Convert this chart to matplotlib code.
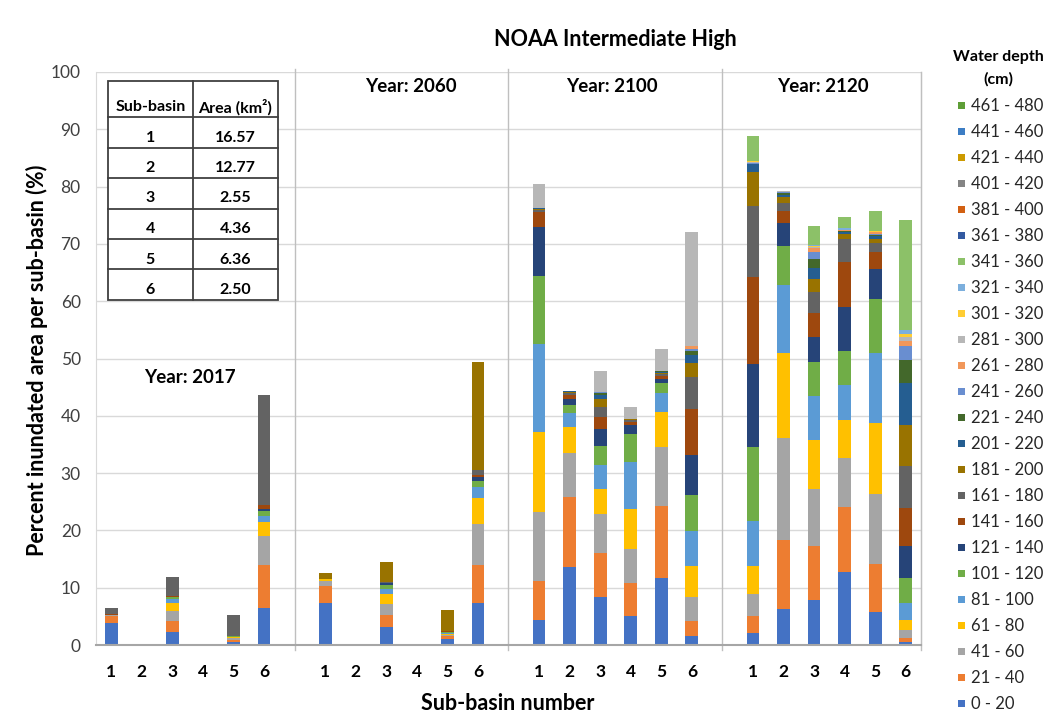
import numpy as np
import matplotlib
matplotlib.use("Agg")
import matplotlib.pyplot as plt
from matplotlib.patches import Rectangle
from matplotlib.lines import Line2D

plt.rcParams['font.family'] = ['Lato', 'DejaVu Sans']

# ---------------------------------------------------------------- data
depth_bins = ["0 - 20", "21 - 40", "41 - 60", "61 - 80", "81 - 100", "101 - 120",
              "121 - 140", "141 - 160", "161 - 180", "181 - 200", "201 - 220",
              "221 - 240", "241 - 260", "261 - 280", "281 - 300", "301 - 320",
              "321 - 340", "341 - 360", "361 - 380", "381 - 400", "401 - 420",
              "421 - 440", "441 - 460", "461 - 480"]

bin_colors = ['#4472C4', '#ED7D31', '#A5A5A5', '#FFC000', '#5B9BD5', '#70AD47',
              '#264478', '#9E480E', '#636363', '#997300', '#255E91', '#43682B',
              '#698ED0', '#F1975A', '#B7B7B7', '#FFCD33', '#7CAFDD', '#8CC168',
              '#335AA1', '#D26012', '#848484', '#CC9A00', '#3C7DC4', '#5E9E37']

years = ["2017", "2060", "2100", "2120"]
sub_basins = ["1", "2", "3", "4", "5", "6"]

# percent of sub-basin area per depth bin (bins above the listed ones are 0)
y2017 = [
    [3.9, 1.2, 0.1, 0.1, 0, 0, 0, 0.1, 1.1],
    [],
    [2.2, 2.0, 1.7, 1.5, 0.7, 0.2, 0.1, 0.1, 3.3],
    [],
    [0.5, 0.4, 0.25, 0.2, 0.1, 0.05, 0.05, 0.05, 3.7],
    [6.4, 7.6, 5.1, 2.4, 1.1, 0.7, 0.4, 0.7, 19.3],
]
y2060 = [
    [7.3, 3.05, 0.9, 0.2, 0, 0, 0, 0, 0, 1.2],
    [0, 0, 0, 0, 0, 0, 0, 0, 0, 0.2],
    [3.2, 2.0, 2.0, 1.7, 0.9, 0.7, 0.3, 0.1, 0.1, 3.4],
    [0, 0, 0, 0, 0, 0, 0, 0, 0, 0.2],
    [1.0, 0.5, 0.3, 0.1, 0.2, 0.2, 0.05, 0.05, 0.05, 3.7],
    [7.4, 6.6, 7.2, 4.4, 2.0, 1.0, 0.7, 0.4, 0.8, 18.9],
]
y2100 = [
    [4.3, 6.9, 12.0, 14.0, 15.4, 11.8, 8.5, 2.6, 0.4, 0.2, 0.1, 0, 0, 0, 4.3],
    [13.6, 12.3, 7.6, 4.5, 2.5, 1.3, 1.2, 0.6, 0.3, 0.3, 0.1, 0, 0, 0, 0.1],
    [8.3, 7.8, 6.7, 4.4, 4.2, 3.4, 2.9, 2.1, 1.7, 1.4, 0.7, 0.4, 0.1, 0.1, 3.6],
    [5.1, 5.8, 5.8, 7.1, 8.2, 4.8, 1.6, 0.6, 0.3, 0.1, 0, 0, 0, 0, 2.1],
    [11.7, 12.6, 10.2, 6.2, 3.2, 1.8, 0.8, 0.5, 0.3, 0.2, 0.2, 0.1, 0, 0, 3.8],
    [1.6, 2.65, 4.05, 5.4, 6.2, 6.3, 6.9, 8.1, 5.6, 2.5, 1.3, 0.7, 0.4, 0.4, 19.9],
]
y2120 = [
    [2.1, 2.9, 3.9, 4.8, 7.9, 12.9, 14.5, 15.2, 12.4, 6.0, 1.3, 0.1, 0.1, 0.1, 0.1, 0.1, 0, 4.5],
    [6.3, 12.0, 17.8, 14.9, 11.9, 6.7, 4.0, 2.1, 1.5, 0.9, 0.5, 0.3, 0.1, 0.1, 0.2],
    [7.9, 9.4, 9.9, 8.5, 7.7, 6.0, 4.3, 4.2, 3.7, 2.3, 1.9, 1.5, 1.2, 0.7, 0.3, 0.2, 0.1, 3.3],
    [12.7, 11.3, 8.6, 6.7, 6.1, 5.9, 7.7, 7.8, 4.0, 1.0, 0.3, 0.1, 0.1, 0.1, 0.1, 0, 0.2, 2.0],
    [5.8, 8.4, 12.1, 12.4, 12.2, 9.4, 5.4, 2.9, 1.6, 0.6, 0.6, 0.2, 0.1, 0.3, 0.1, 0.1, 0.1, 3.4],
    [0.45, 0.85, 1.4, 1.75, 2.85, 4.4, 5.6, 6.6, 7.3, 7.2, 7.4, 4.0, 2.3, 1.0, 0.6, 0.5, 0.8, 19.1],
]

table_basins = ["1", "2", "3", "4", "5", "6"]
table_areas = ["16.57", "12.77", "2.55", "4.36", "6.36", "2.50"]

# ---------------------------------------------------------------- figure
W, H = 1050, 719
fig = plt.figure(figsize=(W / 100, H / 100), dpi=100)


def fx(x):
    return x / W


def fy(y):
    return 1 - y / H


ax_l, ax_r, ax_t, ax_b = 96, 921, 72, 645
ax = fig.add_axes([fx(ax_l), fy(ax_b), (ax_r - ax_l) / W, (ax_b - ax_t) / H])

nb = len(depth_bins)
all_years = [y2017, y2060, y2100, y2120]
vals = np.zeros((len(years), len(sub_basins), nb))
for p, yr in enumerate(all_years):
    for s, row in enumerate(yr):
        vals[p, s, :len(row)] = row

# bar positions: 6 bars per year, with a blank slot between years
xpos = np.array([[7 * p + s for s in range(6)] for p in range(4)])

bottom = np.zeros((4, 6))
for b in range(nb):
    ax.bar(xpos.ravel(), vals[:, :, b].ravel(), 0.42, bottom=bottom.ravel(),
           color=bin_colors[b], linewidth=0, zorder=3)
    bottom += vals[:, :, b]

ax.set_xlim(-0.5, 26.5)
ax.set_ylim(0, 100)
ax.set_yticks(np.arange(0, 101, 10))
ax.yaxis.grid(True, color='#D9D9D9', linewidth=1, zorder=0)
ax.tick_params(axis='y', length=0, pad=11, labelsize=12.5, labelcolor='#404040')
ax.set_xticks(xpos.ravel())
ax.set_xticklabels(sub_basins * 4, fontweight='bold', fontsize=12.5)
ax.tick_params(axis='x', length=0, pad=14)

ax.spines['top'].set_visible(False)
ax.spines['left'].set_color('#D9D9D9')
ax.spines['right'].set_color('#BFBFBF')
ax.spines['bottom'].set_color('#A6A6A6')
ax.spines['bottom'].set_linewidth(1.5)
ax.spines['bottom'].set_zorder(4)

# year separators
for sx in [6, 13, 20]:
    ax.plot([sx, sx], [-0.9, 100.5], color='#BFBFBF', lw=1, clip_on=False, zorder=2)
ax.plot([26.5, 26.5], [-0.9, 100], color='#BFBFBF', lw=1, clip_on=False, zorder=2)

# year labels
ylab = dict(ha='center', va='center', fontsize=13.5, fontweight='bold')
fig.text(fx(190), fy(378), "Year: 2017", **ylab)
fig.text(fx(411), fy(87), "Year: 2060", **ylab)
fig.text(fx(612), fy(87), "Year: 2100", **ylab)
fig.text(fx(823), fy(87), "Year: 2120", **ylab)

fig.text(fx(615), fy(39), "NOAA Intermediate High", ha='center', va='center',
         fontsize=15.5, fontweight='bold', color='black')
fig.text(fx(508), fy(703), "Sub-basin number", ha='center', va='center',
         fontsize=15.5, fontweight='bold')
fig.text(fx(37), fy(360), "Percent inundated area per sub-basin (%)", ha='center',
         va='center', rotation=90, fontsize=15.5, fontweight='bold')

# area table
t_l, t_m, t_r = 107.5, 193, 278
t_top, t_head = 81, 117
row_h = (300 - t_head) / 6
fig.patches.append(Rectangle((fx(t_l), fy(300)), (t_r - t_l) / W, (300 - t_top) / H,
                             transform=fig.transFigure, facecolor='white',
                             edgecolor='#404040', linewidth=1.3, zorder=5))
tl = dict(color='#404040', lw=1.3, transform=fig.transFigure, zorder=6)
fig.add_artist(Line2D([fx(t_m), fx(t_m)], [fy(t_top), fy(300)], **tl))
for i in range(6):
    yy = t_head + i * row_h
    fig.add_artist(Line2D([fx(t_l), fx(t_r)], [fy(yy), fy(yy)], **tl))
tt = dict(ha='center', va='center', fontsize=11.5, fontweight='bold', zorder=7)
fig.text(fx((t_l + t_m) / 2), fy(107), "Sub-basin", **tt)
fig.text(fx((t_m + t_r) / 2), fy(107), "Area (km²)", **tt)
for i, (sb, ar) in enumerate(zip(table_basins, table_areas)):
    yy = t_head + (i + 1) * row_h - 10
    fig.text(fx((t_l + t_m) / 2), fy(yy), sb, **tt)
    fig.text(fx((t_m + t_r) / 2), fy(yy), ar, **tt)

# legend (top = deepest bin)
fig.text(fx(998), fy(57), "Water depth", ha='center', va='center', fontsize=11.5, fontweight='bold')
fig.text(fx(998), fy(79), "(cm)", ha='center', va='center', fontsize=11.5, fontweight='bold')
for i, b in enumerate(range(nb - 1, -1, -1)):
    yy = 105.7 + 26 * i
    fig.patches.append(Rectangle((fx(958), fy(yy + 3.5)), 7 / W, 7 / H,
                                 transform=fig.transFigure, facecolor=bin_colors[b],
                                 edgecolor='none'))
    fig.text(fx(971), fy(yy), depth_bins[b], ha='left', va='center',
             fontsize=12, color='#262626')

fig.savefig("out.png", dpi=100)
